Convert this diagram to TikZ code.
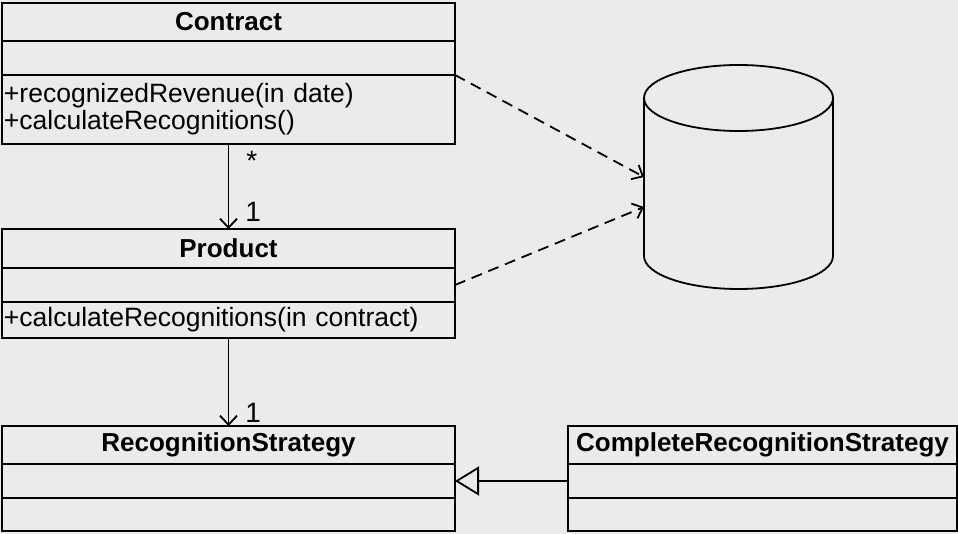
\documentclass[tikz,border=0pt]{standalone}
\usepackage{fontspec}
\setmainfont{Liberation Sans}
\usetikzlibrary{positioning,arrows.meta}
\definecolor{paper}{RGB}{235,235,235}
\tikzset{
  umlpart/.style={draw, line width=1.8pt, minimum width=453pt, inner sep=0pt, outer sep=0pt},
  classname/.style={umlpart, minimum height=38pt, font=\bfseries\fontsize{26}{28}\selectfont},
  classattr/.style={umlpart, minimum height=34pt},
  classops/.style={umlpart, text width=449pt, align=left, inner xsep=2pt, font=\fontsize{26.5}{27}\selectfont},
  mult/.style={inner sep=0pt, font=\fontsize{28}{29}\selectfont},
  assoc/.style={line width=1.8pt, -{Straight Barb[length=9pt,width=17pt]}},
  dep/.style={line width=1.8pt, dash pattern=on 11pt off 7pt, -{Straight Barb[length=9pt,width=16pt]}},
  inherit/.style={line width=1.8pt, -{Triangle[open,length=24pt,width=29pt]}}
}
\begin{document}
\begin{tikzpicture}[x=1pt,y=1pt]
 \useasboundingbox (0,0) rectangle (958,-534);
 \fill[paper] (0,0) rectangle (958,-534);
 \node[classname, anchor=north west] (contract) at (2,-3) {Contract};
 \node[classattr, below=0pt of contract] (contractAttr) {};
 \node[classops, minimum height=69pt, below=0pt of contractAttr] (contractOps) {+recognizedRevenue(in date)\\+calculateRecognitions()};
 \node[classname, anchor=north west, minimum height=39pt] (product) at (2,-229) {Product};
 \node[classattr, below=0pt of product] (productAttr) {};
 \node[classops, minimum height=36pt, below=0pt of productAttr] (productOps) {+calculateRecognitions(in contract)};
 \node[classname, anchor=north west] (strategy) at (2,-426) {RecognitionStrategy};
 \node[classattr, below=0pt of strategy] (strategyAttr) {};
 \node[classattr, minimum height=33pt, below=0pt of strategyAttr] (strategyOps) {};
 \node[classname, anchor=north west, minimum width=389pt] (complete) at (568,-426) {CompleteRecognitionStrategy};
 \node[classattr, minimum width=389pt, below=0pt of complete] (completeAttr) {};
 \node[classattr, minimum width=389pt, minimum height=33pt, below=0pt of completeAttr] (completeOps) {};
 \draw[line width=1.8pt] (644,-98) -- (644,-256) arc[start angle=180, end angle=360, x radius=94.5, y radius=33] -- (833,-98);
 \draw[line width=1.8pt] (738.5,-98) ellipse [x radius=94.5, y radius=33];
 \coordinate (dbTop) at (644,-177);
 \coordinate (dbLow) at (644,-207);
 \draw[assoc] (contractOps.south) -- (product.north)
   node[mult, pos=0.2, right=17pt] {*}
   node[mult, pos=0.8, right=16pt] {1};
 \draw[assoc] (productOps.south) -- (strategy.north)
   node[mult, pos=0.85, right=16pt] {1};
 \draw[inherit] (completeAttr.west) -- (strategyAttr.east);
 \draw[dep] (contractOps.north east) -- (dbTop);
 \draw[dep] (productAttr.east) -- (dbLow);
\end{tikzpicture}
\end{document}
